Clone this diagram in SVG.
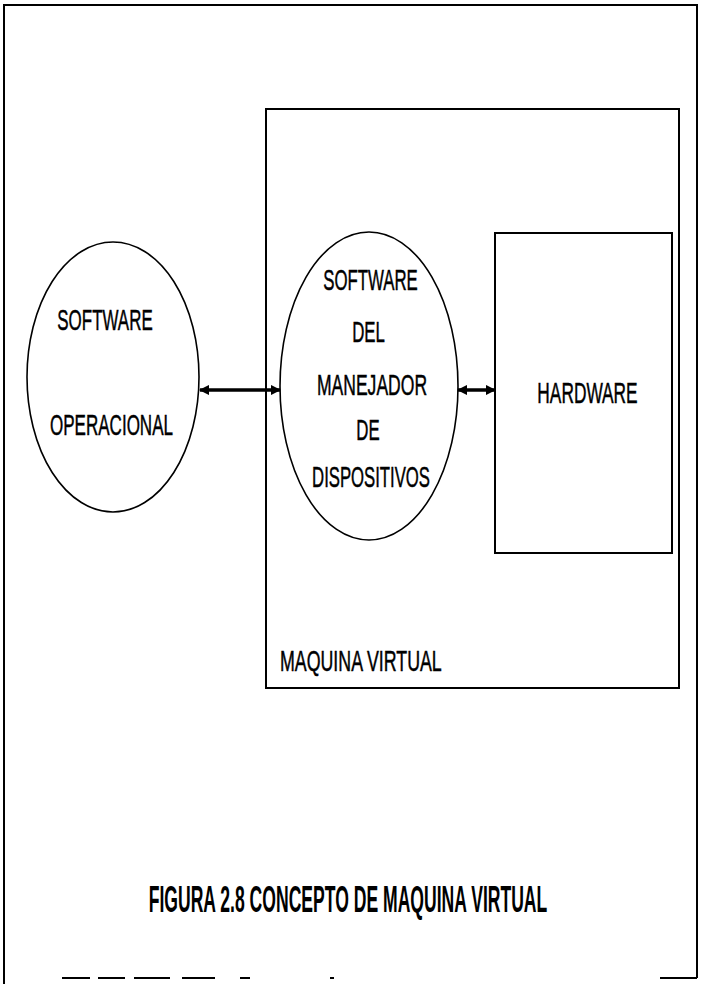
<svg xmlns="http://www.w3.org/2000/svg" width="702" height="985" viewBox="0 0 702 985">
<defs>
<style>
.frame{fill:none;stroke:#000;stroke-width:2}
.shape{fill:none;stroke:#000;stroke-width:1.6}
.lbl{font-family:"Liberation Sans",Arial,sans-serif;font-size:30px;fill:#000;stroke:#000;stroke-width:0.5}
.ttl{font-family:"Liberation Sans",Arial,sans-serif;font-size:37px;font-weight:bold;fill:#000}
.mid{text-anchor:middle}
.conn{stroke:#000;stroke-width:3.5;fill:none}
</style>
<marker id="ah" viewBox="0 0 10 10" refX="9" refY="5" markerWidth="3" markerHeight="3" orient="auto-start-reverse">
<path d="M0,0 L10,5 L0,10 z" fill="#000"/>
</marker>
</defs>
<rect width="702" height="985" fill="#fff"/>
<g id="page-frame">
<path class="frame" d="M4,984 L4,5 L697,5 L697,978"/>
<path class="frame" d="M62,978 L90,978 M98,978 L125,978 M134,978 L170,978 M182,978 L215,978 M240,978 L250,978 M330,978 L334,978 M660,978 L697,978"/>
</g>
<g id="maquina-virtual">
<rect class="frame" x="266" y="109" width="413" height="579"/>
<text class="lbl" transform="translate(280,671) scale(0.593,1)">MAQUINA VIRTUAL</text>
</g>
<g id="software-operacional">
<ellipse class="shape" cx="113" cy="377" rx="86" ry="135"/>
<text class="lbl mid" transform="translate(105,330) scale(0.565,1)">SOFTWARE</text>
<text class="lbl mid" transform="translate(111.5,435) scale(0.568,1)">OPERACIONAL</text>
</g>
<g id="software-manejador">
<ellipse class="shape" cx="369" cy="386" rx="89" ry="154"/>
<text class="lbl mid" transform="translate(370.5,290) scale(0.56,1)">SOFTWARE</text>
<text class="lbl mid" transform="translate(368.5,342) scale(0.56,1)">DEL</text>
<text class="lbl mid" transform="translate(372,395) scale(0.585,1)">MANEJADOR</text>
<text class="lbl mid" transform="translate(368,440) scale(0.56,1)">DE</text>
<text class="lbl mid" transform="translate(371,487) scale(0.557,1)">DISPOSITIVOS</text>
</g>
<g id="hardware">
<rect class="frame" x="495" y="233" width="177" height="320"/>
<text class="lbl mid" transform="translate(587.5,403) scale(0.577,1)">HARDWARE</text>
</g>
<g id="connectors">
<line class="conn" x1="200" y1="390" x2="280" y2="390" marker-start="url(#ah)" marker-end="url(#ah)"/>
<line class="conn" x1="458" y1="390" x2="495" y2="390" marker-start="url(#ah)" marker-end="url(#ah)"/>
</g>
<g id="caption">
<text class="ttl mid" transform="translate(348,912) scale(0.475,1)">FIGURA 2.8 CONCEPTO DE MAQUINA VIRTUAL</text>
</g>
</svg>
